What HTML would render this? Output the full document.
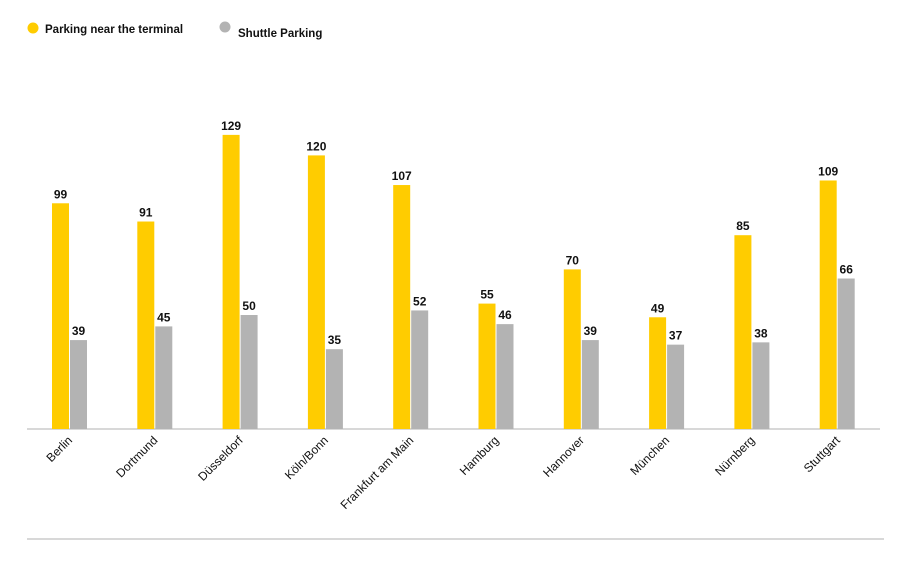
<!DOCTYPE html>
<html><head><meta charset="utf-8"><style>
body{margin:0;background:#fff;}
svg{display:block;font-family:"Liberation Sans",sans-serif;}
</style></head><body>
<svg width="910" height="568" viewBox="0 0 910 568">
<g>
<circle cx="33" cy="28" r="5.5" fill="#ffcc00"/>
<text x="45" y="33" font-size="11.5" font-weight="bold" fill="#111">Parking near the terminal</text>
<circle cx="225" cy="27" r="5.5" fill="#b3b3b3"/>
<text x="238" y="37" font-size="11.5" font-weight="bold" fill="#111">Shuttle Parking</text>
</g>
<line x1="27" y1="429" x2="880" y2="429" stroke="#cccccc" stroke-width="1.5"/>
<line x1="27" y1="539" x2="884" y2="539" stroke="#cccccc" stroke-width="1.5"/>
<g id="bars"></g>
</svg>
<script>
const categories = ["Berlin","Dortmund","Düsseldorf","Köln/Bonn","Frankfurt am Main","Hamburg","Hannover","München","Nürnberg","Stuttgart"];
const terminalValues = [99,91,129,120,107,55,70,49,85,109];
const shuttleValues = [39,45,50,35,52,46,39,37,38,66];
const NS="http://www.w3.org/2000/svg";
const g=document.getElementById('bars');
const base=429, scale=2.28, step=85.3, x0=52, bw=17;
function y(v){return base-v*scale;}
function xGroup(i){return x0+i*step;}
function mk(t,a){const e=document.createElementNS(NS,t);for(const k in a)e.setAttribute(k,a[k]);g.appendChild(e);return e;}
categories.forEach((c,i)=>{
  const xs=xGroup(i);
  [[terminalValues[i],"#ffcc00",xs,"terminal"],[shuttleValues[i],"#b3b3b3",xs+bw+1,"shuttle"]].forEach(([v,col,x,s])=>{
    const r=mk('rect',{x:x,y:y(v),width:bw,height:v*scale,fill:col});
    
    
    const t=mk('text',{x:x+bw/2,y:y(v)-5,'text-anchor':'middle','font-size':'12','font-weight':'bold',fill:'#111'});
    t.textContent=v;
    
    
  });
  const cx=xs+bw+4, cy=441;
  const l=mk('text',{x:cx,y:cy,'text-anchor':'end','font-size':'12',fill:'#111',transform:'rotate(-45 '+cx+' '+cy+')'});
  l.textContent=c;
  
  
});
</script>
</body></html>
